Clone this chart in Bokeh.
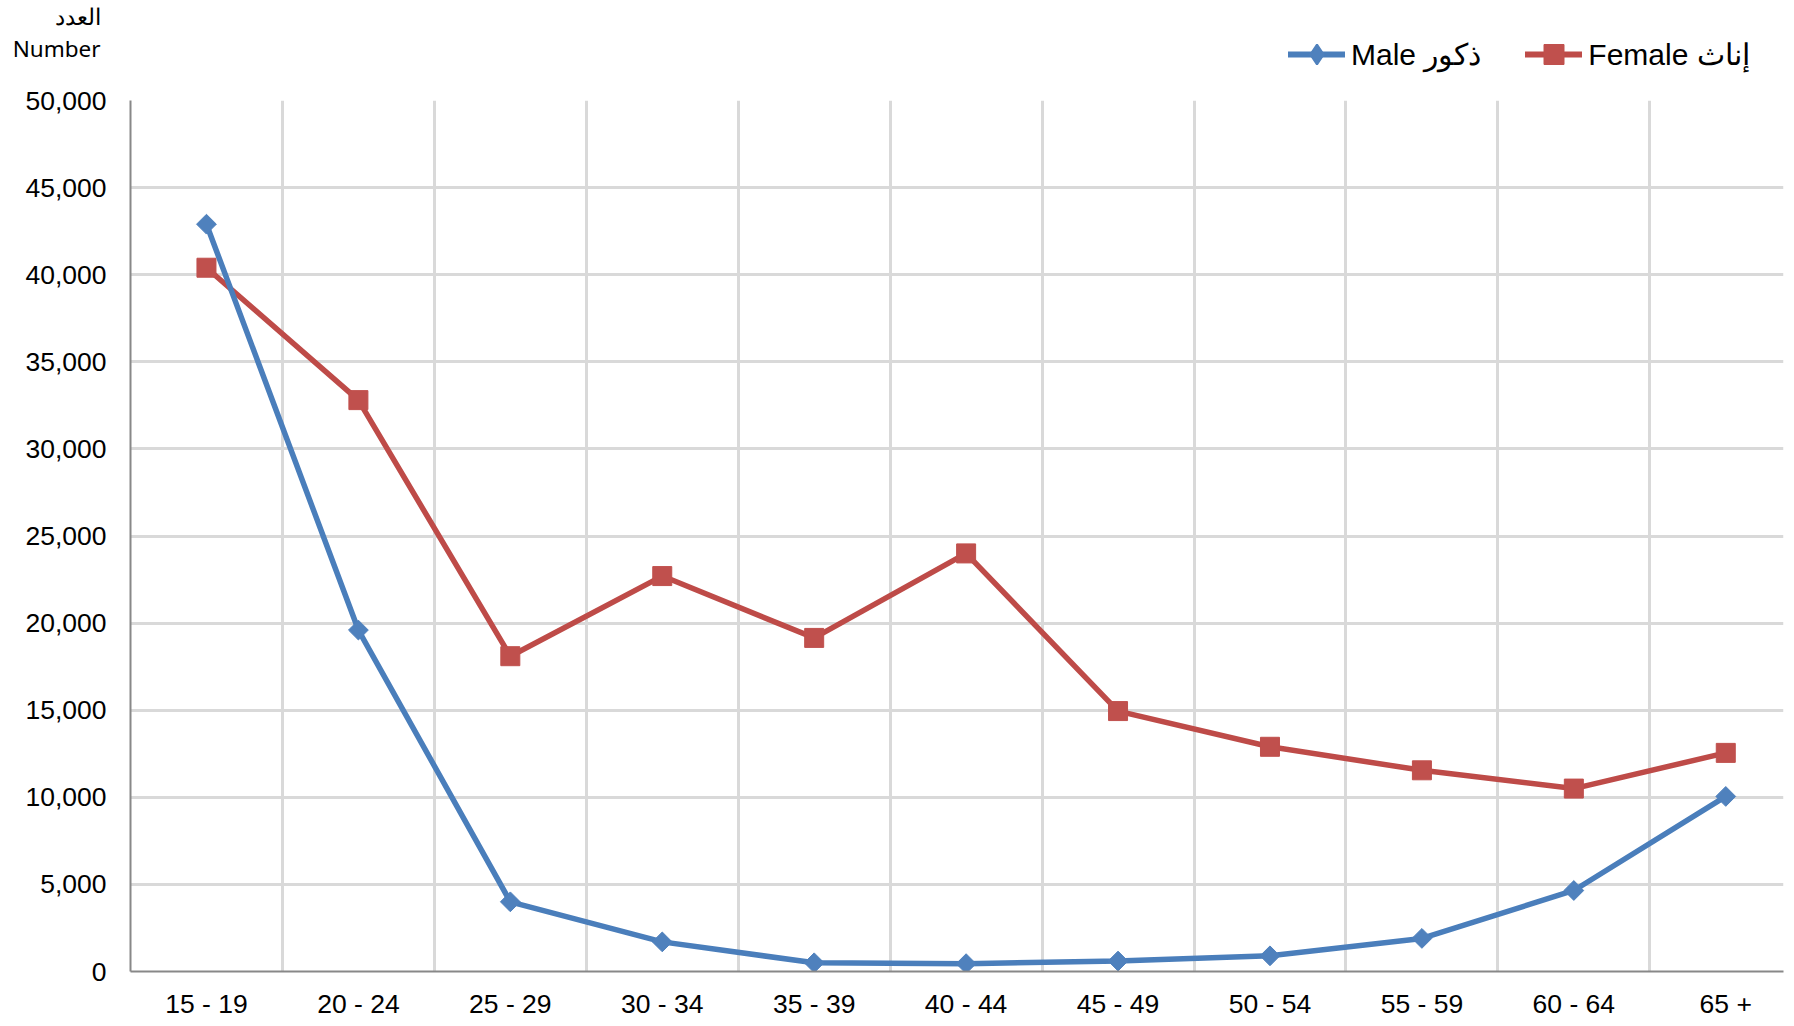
import math
from bokeh.plotting import figure
from bokeh.layouts import column
from bokeh.models import (ColumnDataSource, FixedTicker, NumeralTickFormatter,
                          Legend, LegendItem, Range1d)
from bokeh.embed import file_html
from bokeh.resources import INLINE

categories = ["15 - 19", "20 - 24", "25 - 29", "30 - 34", "35 - 39", "40 - 44",
              "45 - 49", "50 - 54", "55 - 59", "60 - 64", "65 +"]
male = [42900, 19600, 4000, 1700, 500, 450, 600, 900, 1900, 4650, 10050]
female = [40400, 32800, 18100, 22700, 19150, 24000, 14950, 12900, 11550, 10500, 12550]
y_ticks = list(range(0, 50001, 5000))
male_label = "Male ذكور"
female_label = "Female إناث"
y_title_ar = "العدد"
y_title_en = "Number"

BLUE_LINE, BLUE = "#4A7EBB", "#4F81BD"
RED_LINE, RED = "#BE4B48", "#C0504D"

LEFT, RIGHT = 130, 11
xs = list(range(len(categories)))
src = ColumnDataSource(dict(x=xs, male=male, female=female))

# ---------------- header (axis title + legend) ----------------
HEAD_H = 78
head = figure(width=1794, height=HEAD_H, output_backend="svg", toolbar_location=None,
              x_range=Range1d(0, 1), y_range=Range1d(0, HEAD_H),
              min_border_left=LEFT, min_border_right=RIGHT,
              min_border_top=0, min_border_bottom=0)
head.xaxis.visible = False
head.grid.visible = False
head.outline_line_color = None
# the y-axis title ("العدد" / "Number") is drawn as labels of the header's left axis
head.yaxis.ticker = FixedTicker(ticks=[HEAD_H - 15, HEAD_H - 48])
head.yaxis.major_label_overrides = {HEAD_H - 15: y_title_ar, HEAD_H - 48: y_title_en}
head.yaxis.axis_line_color = None
head.yaxis.major_tick_line_color = None
head.yaxis.minor_tick_line_color = None
head.yaxis.major_label_standoff = 24
head.yaxis.major_label_text_font = "Noto Sans"
head.yaxis.major_label_text_font_size = "22.5px"
head.yaxis.major_label_text_color = "black"

# legend proxies (single point placed outside the visible range)
proxy = ColumnDataSource(dict(x=[-10], y=[-10]))
hml = head.line("x", "y", source=proxy, line_color=BLUE_LINE, line_width=6, line_cap="round")
hms = head.scatter("x", "y", source=proxy, marker="diamond",
                   fill_color=BLUE, line_color=BLUE, line_width=2)
hfl = head.line("x", "y", source=proxy, line_color=RED_LINE, line_width=6, line_cap="round")
hfs = head.scatter("x", "y", source=proxy, marker="square",
                   fill_color=RED, line_color=RED)

legend = Legend(items=[LegendItem(label=male_label, renderers=[hml, hms]),
                       LegendItem(label=female_label, renderers=[hfl, hfs])],
                orientation="horizontal", location=(1288 - LEFT, HEAD_H - 79),
                label_text_font="Liberation Sans", label_text_font_size="30px",
                label_text_color="black", glyph_width=57, glyph_height=50,
                label_standoff=6, spacing=44, padding=0, margin=0,
                border_line_color=None, background_fill_alpha=0)
head.add_layout(legend, "center")

# ---------------- main chart ----------------
p = figure(width=1794, height=1026 - HEAD_H, output_backend="svg", toolbar_location=None,
           x_range=Range1d(-0.5, 10.38), y_range=Range1d(0, 50000),
           min_border_left=LEFT, min_border_right=RIGHT, min_border_top=100 - HEAD_H,
           min_border_bottom=55)
p.outline_line_color = None
p.background_fill_color = "white"

p.ygrid.ticker = FixedTicker(ticks=y_ticks)
p.ygrid.grid_line_color = "#D9D9D9"
p.ygrid.grid_line_width = 3
p.xgrid.ticker = FixedTicker(ticks=[i + 0.5 for i in xs[:-1]])
p.xgrid.grid_line_color = "#D9D9D9"
p.xgrid.grid_line_width = 3

p.yaxis.ticker = FixedTicker(ticks=y_ticks)
p.yaxis.formatter = NumeralTickFormatter(format="0,0")
p.xaxis.ticker = FixedTicker(ticks=xs)
p.xaxis.major_label_overrides = {i: c for i, c in zip(xs, categories)}
for ax in (p.xaxis[0], p.yaxis[0]):
    ax.axis_line_color = "#888888"
    ax.axis_line_width = 2
    ax.major_tick_line_color = None
    ax.minor_tick_line_color = None
    ax.major_label_text_font = "Liberation Sans"
    ax.major_label_text_font_size = "26.5px"
    ax.major_label_text_color = "black"
p.yaxis.major_label_standoff = 18
p.xaxis.major_label_standoff = 11

fl = p.line("x", "female", source=src, line_color=RED_LINE, line_width=5.5)
fs = p.scatter("x", "female", source=src, marker="square", size=19,
               fill_color=RED, line_color=RED)
ml = p.line("x", "male", source=src, line_color=BLUE_LINE, line_width=5.5)
ms = p.scatter("x", "male", source=src, marker="square", angle=math.pi / 4,
               size=14, fill_color=BLUE, line_color=BLUE)

layout = column(head, p, spacing=0)
open("out.html", "w").write(file_html(layout, INLINE))
